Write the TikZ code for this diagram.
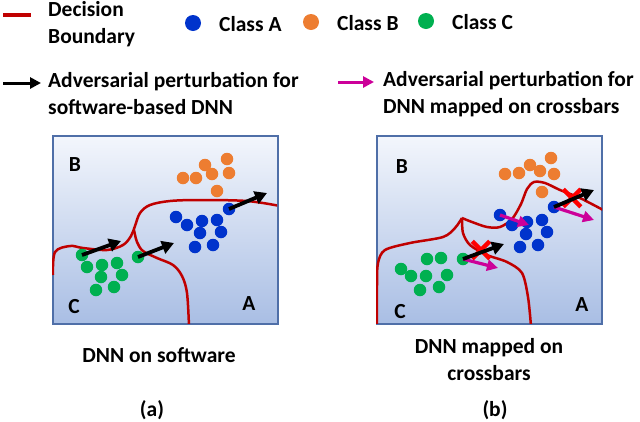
\documentclass[tikz,border=0pt]{standalone}
\usepackage{fontspec}
\setmainfont{Carlito}
\usetikzlibrary{arrows.meta,shapes.misc}
\definecolor{cA}{HTML}{0033CC}
\definecolor{cB}{HTML}{ED7D31}
\definecolor{cC}{HTML}{00B050}
\definecolor{bnd}{HTML}{C00000}
\definecolor{mag}{HTML}{CC0099}
\definecolor{framec}{HTML}{4F6FA8}
\definecolor{bgtop}{HTML}{F3F6FC}
\definecolor{bgbot}{HTML}{A9BEE4}
\begin{document}
\begin{tikzpicture}[x=1pt,y=-1pt,
  lbl/.style={font=\fontsize{21.5}{27}\selectfont\bfseries, inner sep=0pt},
  dotA/.style={circle, fill=cA, minimum size=12.5pt, inner sep=0pt},
  dotB/.style={circle, fill=cB, minimum size=12.5pt, inner sep=0pt},
  dotC/.style={circle, fill=cC, minimum size=12.5pt, inner sep=0pt},
  legdot/.style={minimum size=16pt},
  panel/.style={draw=framec, line width=1.5pt, top color=bgtop, bottom color=bgbot, minimum width=225pt, minimum height=188pt, anchor=north west, inner sep=0pt},
  bound/.style={draw=bnd, line width=2.5pt},
  blk/.style={line width=3.8pt, -{Triangle[length=12pt,width=13pt]}},
  magarr/.style={draw=mag, line width=3.2pt, -{Triangle[length=11pt,width=11pt]}, mag},
  xmark/.style={draw=red, cross out, line width=4.5pt, minimum size=13pt, inner sep=0pt}]
\useasboundingbox (0,0) rectangle (640,421);

% ---------- legend ----------
\coordinate (lr1) at (3,15);
\coordinate (lr2) at (31,15);
\draw[bnd, line width=4pt] (lr1) -- (lr2);
\node[lbl, align=left, anchor=west] (tdb) at (48,24) {Decision\\Boundary};
\node[dotA, legdot] (lA) at (193,23) {};
\node[lbl, anchor=west] (tA) at (219,24) {Class A};
\node[dotB, legdot] (lB) at (311,22) {};
\node[lbl, anchor=west] (tB) at (337,23) {Class B};
\node[dotC, legdot] (lC) at (426,21) {};
\node[lbl, anchor=west] (tC) at (452,22) {Class C};

\coordinate (la1) at (3,83);
\coordinate (la2) at (41,83);
\draw[line width=3pt, -{Triangle[length=11pt,width=11pt]}] (la1) -- (la2);
\node[lbl, align=left, anchor=west] (tsw) at (48,94) {Adversarial perturbation for\\software-based DNN};
\coordinate (lm1) at (338,82);
\coordinate (lm2) at (374,82);
\draw[draw=mag, line width=3pt, -{Triangle[length=11pt,width=11pt]}, mag] (lm1) -- (lm2);
\node[lbl, align=left, anchor=west] (thw) at (383,94) {Adversarial perturbation for\\DNN mapped on crossbars};

% ---------- panel (a) ----------
\node[panel] (pa) at (52,135) {};
\begin{scope}
\clip (52,135) rectangle (277,323);
\draw[bound] plot[smooth, tension=0.55] coordinates {(53,275) (55,252) (70,246) (83,248) (107,250) (123,245) (131,236) (135,226) (140,213) (150,205) (170,201) (200,200) (247,201) (280,206)};
\draw[bound] plot[smooth, tension=0.55] coordinates {(134,230) (137,242) (143,251) (157,258) (173,265) (182,276) (187,293) (189,326)};
\end{scope}
\node[lbl] (pab) at (75,165) {B};
\node[lbl] (pac) at (74,307) {C};
\node[lbl] (paa) at (249,304) {A};
% orange
\node[dotB] (ao1) at (183,178) {};
\node[dotB] (ao2) at (196,178) {};
\node[dotB] (ao3) at (205,165) {};
\node[dotB] (ao4) at (212,174) {};
\node[dotB] (ao5) at (227,159) {};
\node[dotB] (ao6) at (229,173) {};
\node[dotB] (ao7) at (217,191) {};
% blue
\node[dotA] (ab1) at (176,217) {};
\node[dotA] (ab2) at (187,225) {};
\node[dotA] (ab3) at (202,221) {};
\node[dotA] (ab4) at (217,220) {};
\node[dotA] (ab5) at (200,233) {};
\node[dotA] (ab6) at (221,232) {};
\node[dotA] (ab7) at (195,247) {};
\node[dotA] (ab8) at (213,245) {};
\node[dotA] (ab9) at (229,209) {};
% green
\node[dotC] (ag1) at (82,255) {};
\node[dotC] (ag2) at (87,267) {};
\node[dotC] (ag3) at (102,265) {};
\node[dotC] (ag4) at (117,263) {};
\node[dotC] (ag5) at (101,277) {};
\node[dotC] (ag6) at (122,275) {};
\node[dotC] (ag7) at (96,290) {};
\node[dotC] (ag8) at (114,287) {};
\node[dotC] (ag9) at (138,257) {};
% arrows
\coordinate (ae1) at (121,241);
\coordinate (ae2) at (174,243);
\coordinate (ae3) at (267,193);
\draw[blk] (ag1.center) -- (ae1);
\draw[blk] (ag9.center) -- (ae2);
\draw[blk] (ab9.center) -- (ae3);

% ---------- panel (b) ----------
\node[panel] (pb) at (376,135) {};
\begin{scope}
\clip (376,135) rectangle (602,323);
\draw[bound] plot[smooth, tension=0.5] coordinates {(377,326) (377,285) (378,263) (385,250) (410,243) (443,237) (455,228) (462,218)};
\draw[bound] plot[smooth, tension=0.5] coordinates {(462,218) (472,222) (487,227) (500,227) (512,219) (521,204) (527,189) (534,182) (545,183) (560,190) (580,198) (605,211)};
\draw[bound] plot[smooth, tension=0.5] coordinates {(462,218) (463,233) (470,245) (487,255) (507,262) (522,273) (528,297) (531,326)};
\end{scope}
\node[lbl] (pbb) at (402,167) {B};
\node[lbl] (pbc) at (400,312) {C};
\node[lbl] (pba) at (582,305) {A};
% orange
\node[dotB] (bo1) at (505,174) {};
\node[dotB] (bo2) at (519,173) {};
\node[dotB] (bo3) at (530,165) {};
\node[dotB] (bo4) at (540,171) {};
\node[dotB] (bo5) at (551,158) {};
\node[dotB] (bo6) at (554,174) {};
\node[dotB] (bo7) at (542,192) {};
% blue
\node[dotA] (bb1) at (500,215) {};
\node[dotA] (bb2) at (512,225) {};
\node[dotA] (bb3) at (527,222) {};
\node[dotA] (bb4) at (542,220) {};
\node[dotA] (bb5) at (526,234) {};
\node[dotA] (bb6) at (547,232) {};
\node[dotA] (bb7) at (520,247) {};
\node[dotA] (bb8) at (538,245) {};
\node[dotA] (bb9) at (554,207) {};
% green
\node[dotC] (bg1) at (401,269) {};
\node[dotC] (bg2) at (411,276) {};
\node[dotC] (bg3) at (427,259) {};
\node[dotC] (bg4) at (441,258) {};
\node[dotC] (bg5) at (426,276) {};
\node[dotC] (bg6) at (447,275) {};
\node[dotC] (bg7) at (420,290) {};
\node[dotC] (bg8) at (439,287) {};
\node[dotC] (bg9) at (463,259) {};
% arrows
\coordinate (be1) at (504,244);
\coordinate (be2) at (594,190);
\coordinate (bm1) at (498,268);
\coordinate (bm2) at (529,225);
\coordinate (bm3) at (594,220);
\draw[magarr] (bg9.center) -- (bm1);
\draw[magarr] (bb1.center) -- (bm2);
\draw[magarr] (bb9.center) -- (bm3);
\node[xmark] (x1) at (481,250) {};
\node[xmark] (x2) at (572,198) {};
\draw[blk] (bg9.center) -- (be1);
\draw[blk] (bb9.center) -- (be2);

% ---------- captions ----------
\node[lbl] (capa) at (159,355) {DNN on software};
\node[lbl] (laba) at (152,410) {(a)};
\node[lbl, align=center] (capb) at (489,360) {DNN mapped on\\crossbars};
\node[lbl] (labb) at (495,410) {(b)};
\end{tikzpicture}
\end{document}
